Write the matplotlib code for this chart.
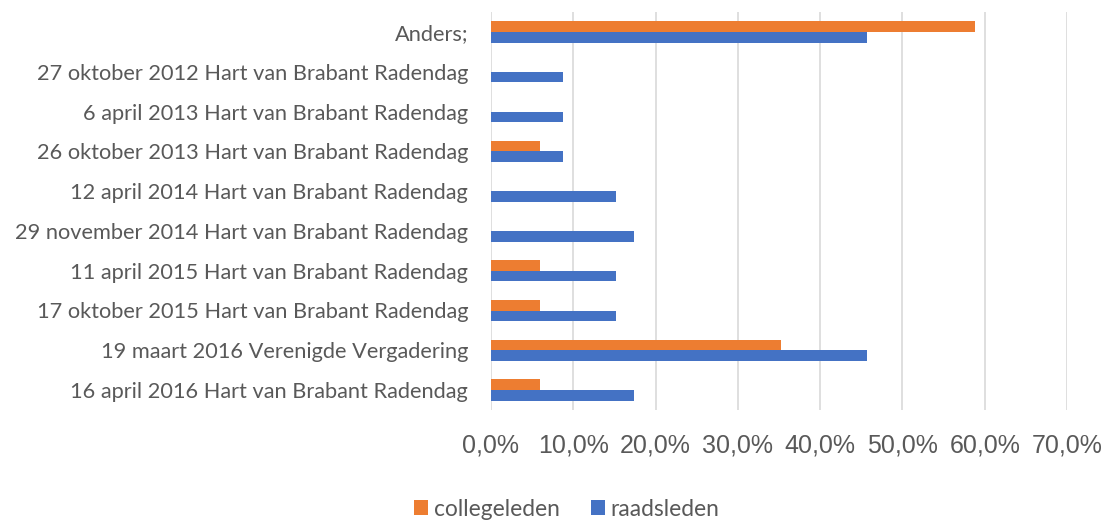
import matplotlib.pyplot as plt
import numpy as np
from matplotlib.ticker import FuncFormatter

categories = [
    "Anders;",
    "27 oktober 2012 Hart van Brabant Radendag",
    "6 april 2013 Hart van Brabant Radendag",
    "26 oktober 2013 Hart van Brabant Radendag",
    "12 april 2014 Hart van Brabant Radendag",
    "29 november 2014 Hart van Brabant Radendag",
    "11 april 2015 Hart van Brabant Radendag",
    "17 oktober 2015 Hart van Brabant Radendag",
    "19 maart 2016 Verenigde Vergadering",
    "16 april 2016 Hart van Brabant Radendag",
]
collegeleden = [0.588, 0.0, 0.0, 0.059, 0.0, 0.0, 0.059, 0.059, 0.353, 0.059]
raadsleden = [0.457, 0.087, 0.087, 0.087, 0.152, 0.174, 0.152, 0.152, 0.457, 0.174]
xticks = [0, 0.1, 0.2, 0.3, 0.4, 0.5, 0.6, 0.7]

orange = "#ed7d31"
blue = "#4472c4"
grey = "#595959"

fig = plt.figure(figsize=(11.13, 5.2), dpi=100)
ax = fig.add_axes([491 / 1113, 1 - 410 / 520, (1067 - 491) / 1113, 398 / 520])

y = np.arange(len(categories))
h = 0.27
ax.barh(y - h / 2, collegeleden, height=h, color=orange, label="collegeleden", zorder=3)
ax.barh(y + h / 2, raadsleden, height=h, color=blue, label="raadsleden", zorder=3)

ax.set_ylim(len(categories) - 0.5, -0.5)
ax.set_xlim(0, 0.7)
ax.set_xticks(xticks)
ax.xaxis.set_major_formatter(FuncFormatter(lambda v, p: f"{v*100:.1f}%".replace(".", ",")))
ax.grid(axis="x", color="#d9d9d9", linewidth=1.2, zorder=0)
for s in ax.spines.values():
    s.set_visible(False)

ax.set_yticks(y)
ax.set_yticklabels(categories, fontsize=15.7, color=grey, family="Lato")
ax.tick_params(axis="y", length=0, pad=16.5)
ax.tick_params(axis="x", length=0, pad=17, labelsize=18, labelcolor=grey)
for t in ax.get_xticklabels():
    t.set_family("Liberation Sans")

fig.legend(loc="center", bbox_to_anchor=(567 / 1113, 1 - 509 / 520), ncol=2, frameon=False,
           prop={"family": "Lato", "size": 16.4}, labelcolor=grey,
           handlelength=0.6, handleheight=0.6, handletextpad=0.25, columnspacing=1.4)

fig.savefig("out.png", dpi=100)
